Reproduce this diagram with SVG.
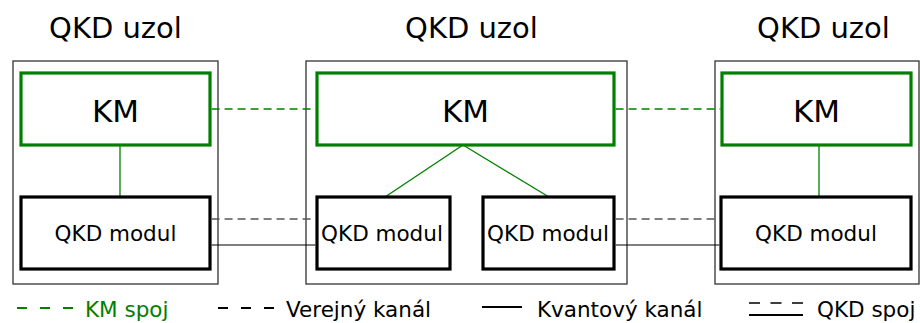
<svg xmlns="http://www.w3.org/2000/svg" width="920" height="323" viewBox="0 0 920 323">
<style>
text{font-family:"DejaVu Sans",Verdana,sans-serif;fill:#000}
.title{font-size:29px;text-anchor:middle}
.km{font-size:31px;text-anchor:middle}
.mod{font-size:21.5px;text-anchor:middle}
.leg{font-size:21.5px}
.outer{fill:#fff;stroke:#333;stroke-width:1.3}
.kmbox{fill:#fff;stroke:#008000;stroke-width:3.2}
.modbox{fill:#fff;stroke:#000;stroke-width:3.2}
.kmlink{stroke:#008000;stroke-width:1.3;stroke-dasharray:8,5;fill:none}
.pub{stroke:#555;stroke-width:1.3;stroke-dasharray:8,5;fill:none}
.qch{stroke:#000;stroke-width:1.2;fill:none}
.int{stroke:#008000;stroke-width:1.3;fill:none}
</style>
<rect width="920" height="323" fill="#fff"/>
<g id="node-left">
<text class="title" x="115.5" y="38">QKD uzol</text>
<rect class="outer" x="13" y="61" width="205" height="223"/>
<line class="int" x1="120" y1="145" x2="120" y2="197"/>
<g id="km-left"><rect class="kmbox" x="21" y="73" width="189" height="72"/><text class="km" x="115.5" y="122">KM</text></g>
<g id="mod-left"><rect class="modbox" x="21" y="197" width="189" height="72"/><text class="mod" x="115.5" y="241">QKD modul</text></g>
</g>
<g id="node-middle">
<text class="title" x="471.5" y="38">QKD uzol</text>
<rect class="outer" x="306" y="61" width="321" height="223"/>
<line class="int" x1="463" y1="145" x2="385" y2="197"/>
<line class="int" x1="463" y1="145" x2="549" y2="197"/>
<g id="km-middle"><rect class="kmbox" x="317" y="73" width="297" height="72"/><text class="km" x="465.5" y="122">KM</text></g>
<g id="mod-middle-1"><rect class="modbox" x="317" y="197" width="133" height="72"/><text class="mod" x="382" y="241">QKD modul</text></g>
<g id="mod-middle-2"><rect class="modbox" x="483" y="197" width="131" height="72"/><text class="mod" x="548" y="241">QKD modul</text></g>
</g>
<g id="node-right">
<text class="title" x="823.5" y="38">QKD uzol</text>
<rect class="outer" x="715" y="61" width="204" height="223"/>
<line class="int" x1="819" y1="145" x2="819" y2="197"/>
<g id="km-right"><rect class="kmbox" x="722" y="73" width="189" height="72"/><text class="km" x="816.5" y="122">KM</text></g>
<g id="mod-right"><rect class="modbox" x="721" y="197" width="190" height="72"/><text class="mod" x="816" y="241">QKD modul</text></g>
</g>
<g id="connectors">
<line class="kmlink" x1="211.6" y1="109" x2="315.4" y2="109"/>
<line class="kmlink" x1="615.6" y1="109" x2="720.4" y2="109"/>
<line class="pub" x1="211.6" y1="219" x2="315.4" y2="219"/>
<line class="pub" x1="615.6" y1="219" x2="719.4" y2="219"/>
<line class="qch" x1="211.6" y1="245" x2="315.4" y2="245"/>
<line class="qch" x1="615.6" y1="245" x2="719.4" y2="245"/>
</g>
<g id="legend">
<line x1="17" y1="308" x2="73" y2="308" stroke="#008000" stroke-width="2" stroke-dasharray="10,13"/>
<text class="leg" x="85" y="317" style="fill:#008000">KM spoj</text>
<line x1="218" y1="308" x2="274" y2="308" stroke="#000" stroke-width="2" stroke-dasharray="10,13"/>
<text class="leg" x="286" y="317">Verejný kanál</text>
<line x1="482" y1="307" x2="522" y2="307" stroke="#000" stroke-width="2"/>
<text class="leg" x="537" y="317">Kvantový kanál</text>
<line x1="749" y1="303" x2="803" y2="303" stroke="#000" stroke-width="1.5" stroke-dasharray="11,10.5"/>
<line x1="749" y1="315" x2="803" y2="315" stroke="#000" stroke-width="2"/>
<text class="leg" x="817" y="317">QKD spoj</text>
</g>
</svg>
